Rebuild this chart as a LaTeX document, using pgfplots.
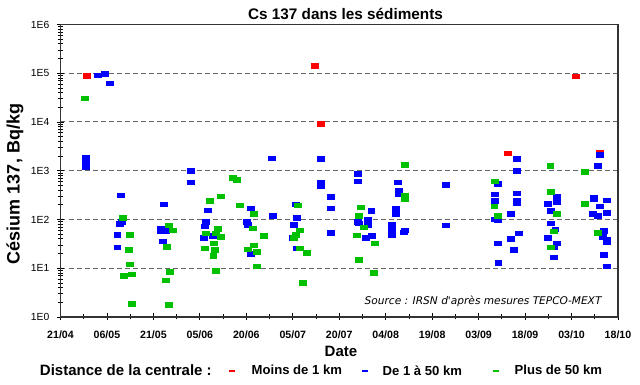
\documentclass[border=0pt]{standalone}
\usepackage{fontspec}
\setmainfont{Liberation Sans}
\newfontfamily\srcfont{DejaVu Sans}
\usepackage{pgfplots}
\usepackage{pgfplotstable}
\pgfplotsset{compat=1.18}
\definecolor{cred}{RGB}{255,0,0}
\definecolor{cblue}{RGB}{0,0,255}
\definecolor{cgreen}{RGB}{0,192,0}

% x = days since 21/04/2011, y = Bq/kg
\pgfplotstableread{
x y
8.5 90000
82.1 144000
84.1 9300
144.3 2300
166.2 88000
174.2 2350
}\redtab

\pgfplotstableread{
x y
12.0 91000
14.2 97000
16.0 63000
8.2 1900
8.1 1600
8.1 1350
8.1 1180
42.1 1000
42.1 585
19.3 316
33.2 207
47.4 156
61.5 171
19.8 91
19.2 83
18.3 49
18.3 27
32.2 66
32.2 59
34.0 59
33.0 36
47.0 90
46.4 73
46.1 42
49.2 46
60.1 90
60.4 78
61.4 19.8
68.1 1800
84.1 1750
95.9 880
95.9 610
109.0 580
84.1 565
84.1 500
109.2 400
109.2 340
87.2 292
87.2 171
75.9 207
100.3 151
108.1 171
108.1 131
68.6 119
76.3 110
95.9 90
99.2 100
96.4 84
99.2 78
75.3 78
74.9 42
87.2 53
98.4 42
100.4 47
106.9 78
107.0 59
107.0 49
111.0 60
110.7 55
76.2 25.6
147.4 1780
174.2 2150
173.3 1290
147.4 1000
141.2 540
124.3 516
147.3 347
140.2 330
147.3 250
147.3 224
140.2 246
160.1 293
160.1 235
157.3 209
172.0 285
172.0 260
176.4 250
174.2 187
158.2 151
145.2 133
171.8 133
173.3 121
176.4 137
140.0 102
141.2 97
124.3 77
158.2 84
159.7 63
175.5 59
175.1 44
176.4 39
176.4 35
148.0 52
145.2 40
157.3 42
160.1 33
141.1 33
159.2 27
146.2 24
159.2 17
175.3 19
141.3 12.9
176.4 11.1
}\bluetab

\pgfplotstableread{
x y
7.9 31000
55.7 730
56.9 660
48.1 246
51.7 302
57.7 198
62.5 131
20.1 108
22.3 49
22.1 24
22.2 12.2
20.3 7.0
23.0 7.5
23.0 1.9
34.8 77
36.1 60
34.4 27.6
35.1 8.5
33.9 5.7
35.0 1.8
47.0 52
50.7 65
50.0 52
51.8 44
49.4 33
46.4 25.6
49.7 24.4
49.3 18
50.1 8.9
62.1 66
62.5 29.5
60.3 24.7
63.4 22
63.4 11.1
111.2 1350
111.1 310
111.2 260
76.6 198
97.0 180
96.4 119
98.0 70
77.3 60
76.0 49
75.4 42
65.5 46
95.5 48
101.3 33
77.3 25.6
79.4 21
96.2 15.2
101.1 8.2
78.1 5.0
158.1 1290
169.1 950
140.2 610
158.2 370
169.1 209
140.0 187
160.2 133
141.1 121
159.2 58
173.3 54
158.3 27
}\greentab

\begin{document}
\begin{tikzpicture}[x=1pt,y=1pt]
\useasboundingbox (0,0) rectangle (640,385);
\begin{axis}[
  at={(60.5pt,68pt)}, anchor=south west,
  scale only axis, width=557.5pt, height=292.5pt,
  xmin=0, xmax=180,
  ymode=log, ymin=1, ymax=1e6,
  xtick={0,15,...,180},
  xticklabels={21/04,06/05,21/05,05/06,20/06,05/07,20/07,04/08,19/08,03/09,18/09,03/10,18/10},
  minor x tick num=1,
  ytick={1,10,100,1000,10000,100000,1000000},
  yticklabels={1E0,1E1,1E2,1E3,1E4,1E5,1E6},
  minor ytick={2,3,4,5,6,7,8,9,20,30,40,50,60,70,80,90,200,300,400,500,600,700,800,900,2000,3000,4000,5000,6000,7000,8000,9000,20000,30000,40000,50000,60000,70000,80000,90000,200000,300000,400000,500000,600000,700000,800000,900000},
  tick pos=left, tick align=center,
  major tick length=7pt, minor tick length=5pt,
  every tick/.style={black, line width=0.8pt},
  ymajorgrids,
  major grid style={black!60, line width=1pt, dash pattern=on 5pt off 3pt},
  axis line style={black!80, line width=1.2pt},
  xticklabel style={font=\fontsize{10.6}{12}\selectfont\bfseries, anchor=center, yshift=-14.5pt},
  yticklabel style={font=\fontsize{10.3}{12}\selectfont, anchor=east, inner sep=0pt, xshift=-7.5pt},
  legend columns=-1,
  legend cell align=left,
  legend style={at={(-0.0368,-0.1846)}, anchor=west, draw=none, fill=none,
    inner sep=0pt, outer sep=0pt, column sep=0pt,
    nodes={inner sep=0pt}, cells={anchor=west},
    font=\fontsize{13.1}{15}\selectfont\bfseries},
]
\addplot[only marks, mark=square*, mark size=2.3pt,
  mark options={xscale=1.5, fill=cred, draw=cred, line width=0.3pt}, forget plot] table {\redtab};
\addplot[only marks, mark=square*, mark size=2.3pt,
  mark options={xscale=1.5, fill=cblue, draw=cblue, line width=0.3pt}, forget plot] table {\bluetab};
\addplot[only marks, mark=square*, mark size=2.3pt,
  mark options={xscale=1.5, fill=cgreen, draw=cgreen, line width=0.3pt}, forget plot] table {\greentab};

\addlegendimage{empty legend}
\addlegendentry{\fontsize{15}{18}\selectfont Distance de la centrale :}
\addlegendimage{legend image code/.code={\path[draw=none,fill=none] (0pt,-5pt) rectangle (40pt,5pt); \fill[cred,draw=none] (17.5pt,-1.3pt) rectangle (23.5pt,1.3pt);}}
\addlegendentry{Moins de 1 km}
\addlegendimage{legend image code/.code={\path[draw=none,fill=none] (0pt,-5pt) rectangle (40.7pt,5pt); \fill[cblue,draw=none] (19.7pt,-1.3pt) rectangle (25.7pt,1.3pt);}}
\addlegendentry{De 1 à 50 km}
\addlegendimage{legend image code/.code={\path[draw=none,fill=none] (0pt,-5pt) rectangle (52.6pt,5pt); \fill[cgreen,draw=none] (31.1pt,-1.3pt) rectangle (37.1pt,1.3pt);}}
\addlegendentry{Plus de 50 km}
\end{axis}
\node[font=\fontsize{15.3}{18}\selectfont\bfseries] at (345.5,371) {Cs 137 dans les sédiments};
\node[rotate=90, font=\fontsize{18}{20}\selectfont\bfseries] at (15,201) {Césium 137, Bq/kg};
\node[font=\fontsize{15}{18}\selectfont\bfseries] at (341,34) {Date};
\node[anchor=east, font=\srcfont\itshape\fontsize{10.6}{12}\selectfont] at (605,83.3) {Source : IRSN d'après mesures TEPCO-MEXT};
\end{tikzpicture}
\end{document}
